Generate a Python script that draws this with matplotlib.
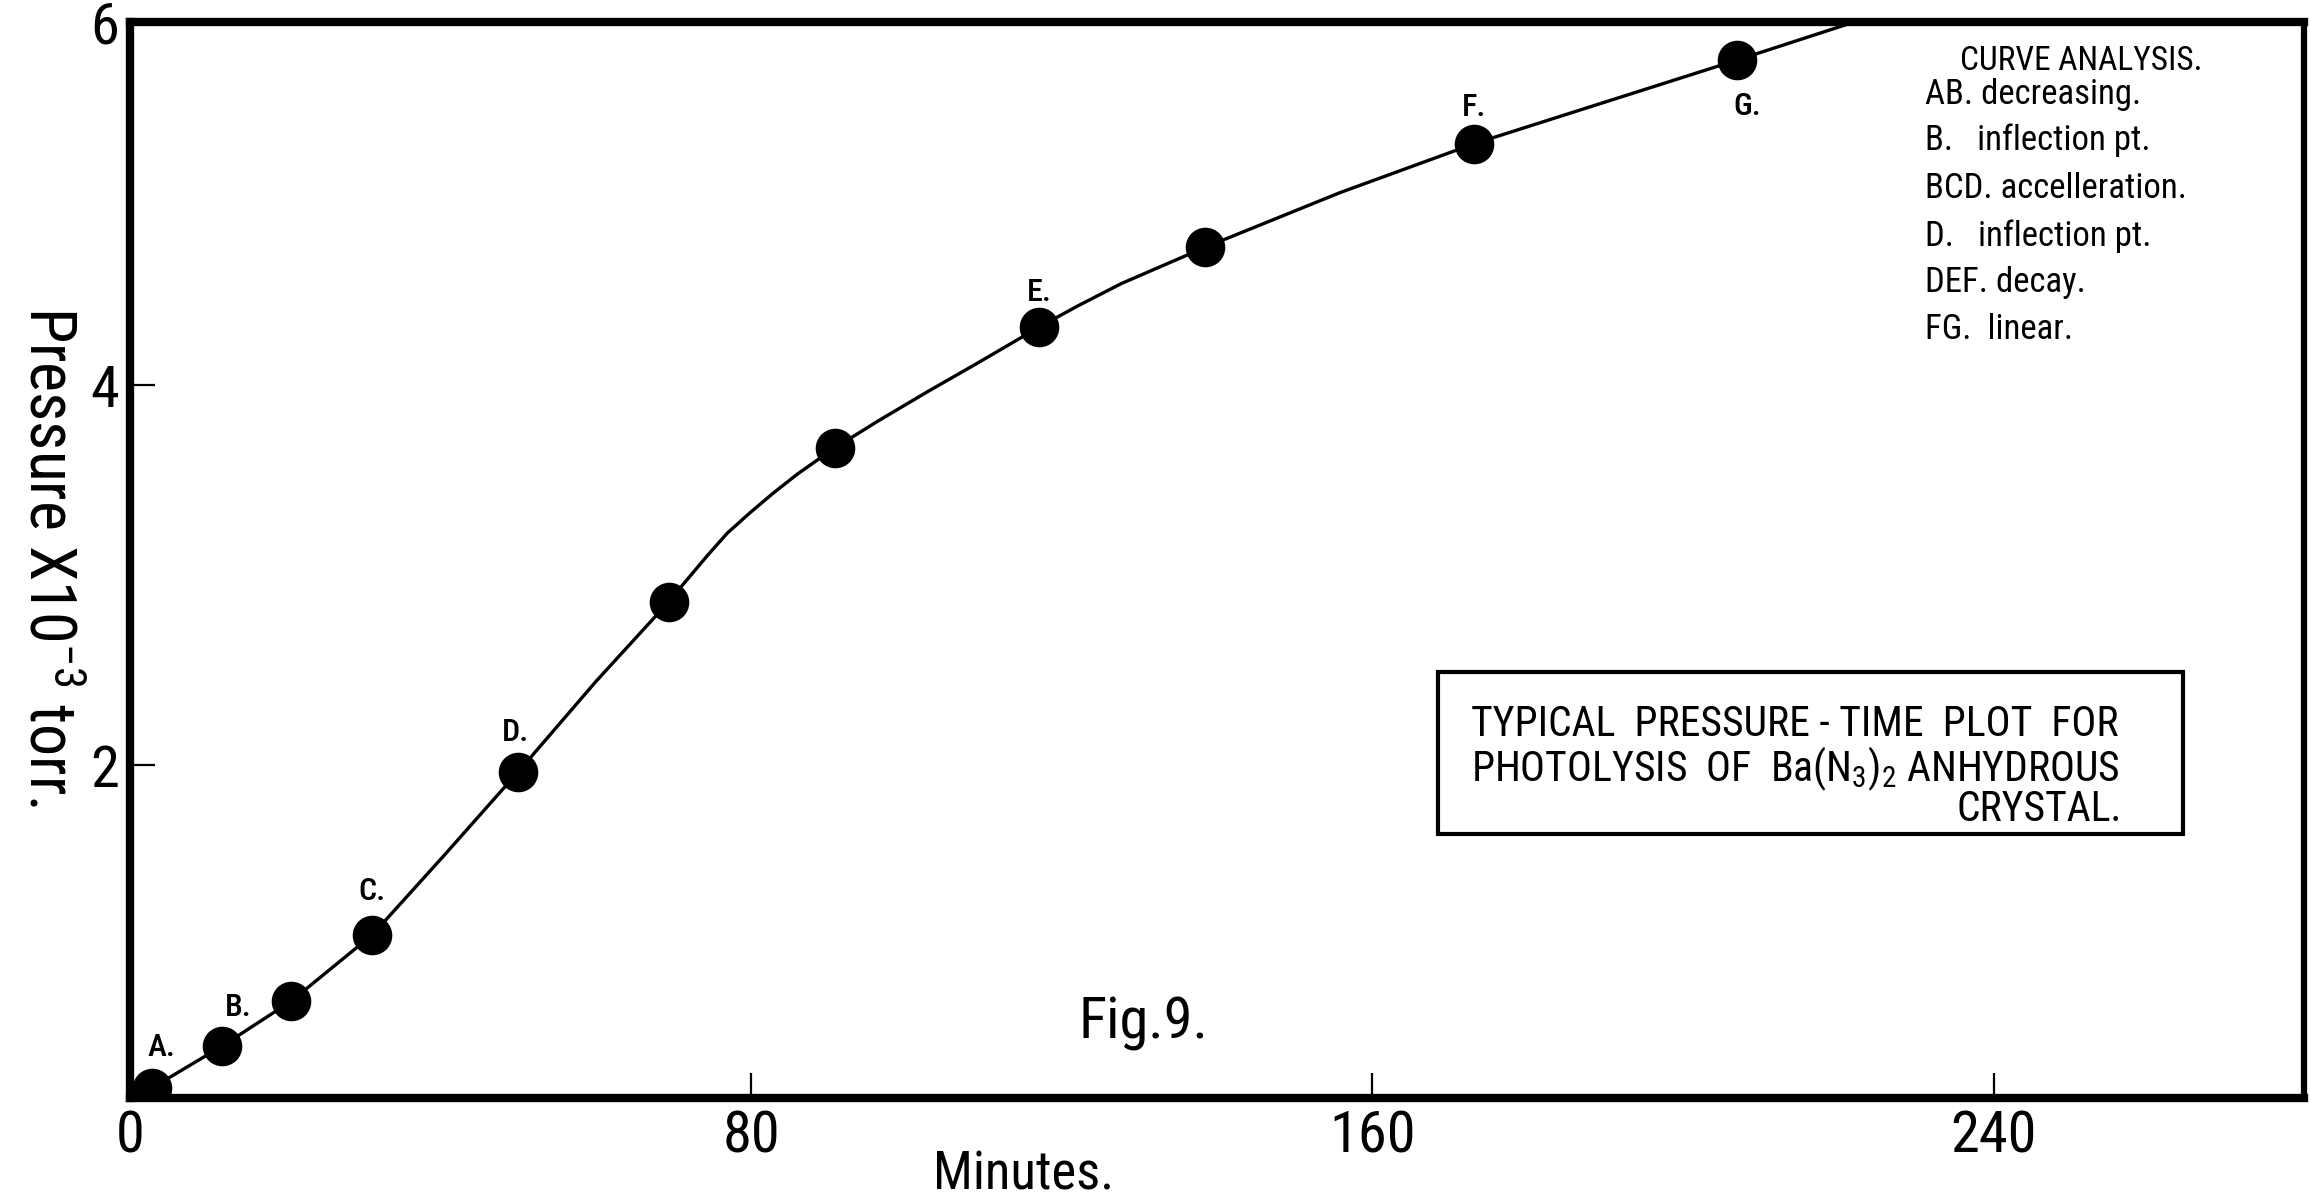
import matplotlib
matplotlib.use('Agg')
import matplotlib.pyplot as plt
import numpy as np
from matplotlib import font_manager
from matplotlib.patches import Rectangle

# narrow lettering face if the system has one
names = {f.name for f in font_manager.fontManager.ttflist}
face = 'Lato'
for cand in ['Roboto Condensed', 'Liberation Sans Narrow', 'Open Sans Condensed', 'Lato']:
    if cand in names:
        face = cand
        break
plt.rcParams['font.family'] = [face, 'DejaVu Sans']
plt.rcParams['mathtext.fontset'] = 'custom'
plt.rcParams['mathtext.rm'] = face
plt.rcParams['mathtext.it'] = face

# measured points (minutes, pressure x 1e-3 torr)
minutes = [2.8, 11.8, 20.7, 31.2, 50.0, 69.4, 90.8, 117.1, 138.5, 173.1, 206.9]
pressure = [0.06, 0.31, 0.58, 0.98, 1.96, 2.86, 3.67, 4.32, 4.76, 5.33, 5.79]
point_labels = ['A.', 'B.', '', 'C.', 'D.', '', '', 'E.', '', 'F.', 'G.']
label_offsets = [(7, 29), (12, 28), (0, 0), (0, 31), (-2, 28), (0, 0), (0, 0),
                 (0, 25), (0, 0), (0, 26), (8, -33)]

# hand-drawn curve traced through the points
curve_x = [2.8, 11.8, 20.7, 31.2, 40.5, 50.0, 60.0, 69.4, 70.8, 74.3, 76.9,
           79.9, 82.8, 85.9, 88.5, 90.8, 96.3, 102.7, 109.1, 113.7, 117.1,
           122.0, 127.7, 138.5, 155.8, 173.1, 190.0, 206.9, 222.0]
curve_y = [0.06, 0.31, 0.58, 0.98, 1.46, 1.96, 2.44, 2.86, 2.93, 3.10, 3.22,
           3.33, 3.43, 3.53, 3.605, 3.67, 3.81, 3.965, 4.12, 4.235, 4.32,
           4.435, 4.56, 4.76, 5.06, 5.33, 5.56, 5.79, 6.0]

x_ticks = [0, 80, 160, 240]
y_ticks = [0, 2, 4, 6]
y_ticklabels = ['', '2', '4', '6']
# the pressure axis was ruled unevenly; where each tick really sits
y_tick_pos = [0, 1.857, 3.976, 6]

analysis = ['AB. decreasing.', 'B.   inflection pt.', 'BCD. accelleration.',
            'D.   inflection pt.', 'DEF. decay.', 'FG.  linear.']
analysis_y = [0.933, 0.890, 0.845, 0.801, 0.758, 0.714]


def fwd(y):
    return np.interp(y, y_ticks, y_tick_pos)


def inv(v):
    return np.interp(v, y_tick_pos, y_ticks)


fig = plt.figure(figsize=(23.11, 11.98), dpi=100)
ax = fig.add_axes([0.0563, 0.0835, 0.9407, 0.898])
ax.set_yscale('function', functions=(fwd, inv))

ax.plot(curve_x, curve_y, color='black', lw=2.4, zorder=2,
        solid_joinstyle='round')
ax.plot(minutes, pressure, 'o', color='black', ms=27.5, zorder=3)
for x, y, lab, off in zip(minutes, pressure, point_labels, label_offsets):
    if lab:
        ax.annotate(lab, (x, y), xytext=off, textcoords='offset points',
                    ha='center', va='center', fontsize=23, fontweight='medium')

ax.set_xlim(0, 280)
ax.set_ylim(0, 6)
ax.set_xticks(x_ticks)
ax.set_yticks(y_ticks)
ax.set_yticklabels(y_ticklabels)
ax.minorticks_off()
ax.tick_params(direction='in', length=18, width=1.6, labelsize=42, pad=8)
for s in ax.spines.values():
    s.set_linewidth(6)
ax.spines['right'].set_linewidth(4.5)

fig.text(0.0205, 0.535, r'Pressure X10$^{-3}$ torr.', rotation=270,
         ha='center', va='center', fontsize=46)
fig.text(0.443, 0.019, 'Minutes.', ha='center', va='center', fontsize=38)
ax.text(0.466, 0.069, 'Fig.9.', transform=ax.transAxes, ha='center',
        va='center', fontsize=42)

# curve analysis notes, upper right
ax.text(0.8976, 0.964, 'CURVE ANALYSIS.', transform=ax.transAxes,
        ha='center', va='center', fontsize=24)
for line, ly in zip(analysis, analysis_y):
    ax.text(0.8257, ly, line, transform=ax.transAxes,
            ha='left', va='center', fontsize=25)

# boxed caption
ax.add_patch(Rectangle((0.6015, 0.245), 0.343, 0.151, transform=ax.transAxes,
                       fill=False, lw=3, color='black'))
ax.text(0.617, 0.3475, 'TYPICAL  PRESSURE - TIME  PLOT  FOR',
        transform=ax.transAxes, ha='left', va='center', fontsize=30)
ax.text(0.617, 0.306, r'PHOTOLYSIS  OF  Ba(N$_3$)$_2$ ANHYDROUS',
        transform=ax.transAxes, ha='left', va='center', fontsize=30)
ax.text(0.84, 0.268, 'CRYSTAL.', transform=ax.transAxes, ha='left',
        va='center', fontsize=30)

fig.savefig('out.png', dpi=100, facecolor='white')
